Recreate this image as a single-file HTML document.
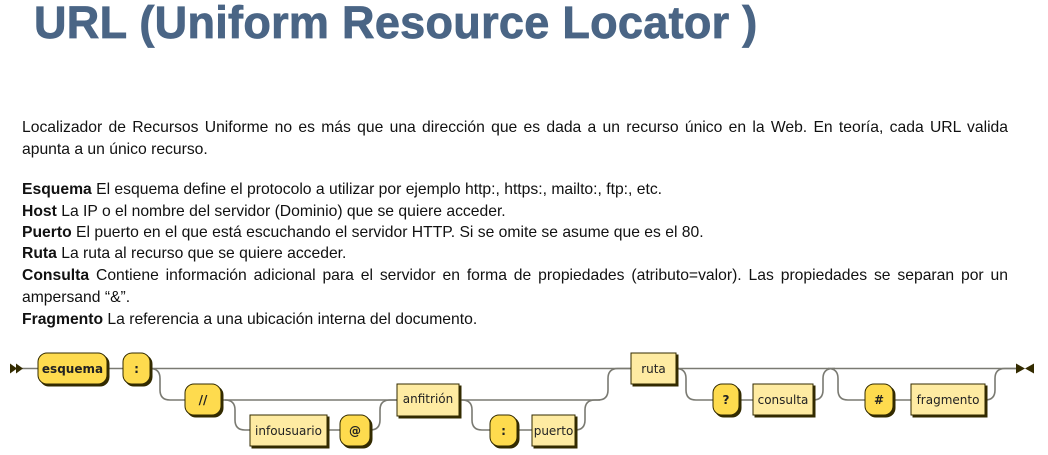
<!DOCTYPE html>
<html><head><meta charset="utf-8"><style>
html,body{margin:0;padding:0;background:#fff;width:1048px;height:455px;overflow:hidden;position:relative}
h1{position:absolute;left:34px;top:-3px;margin:0;font:bold 45px "Liberation Sans",sans-serif;color:#4a6585;white-space:nowrap;letter-spacing:0.3px;-webkit-text-stroke:0.8px #4a6585}
.t{position:absolute;left:22px;width:986px;font:15.7px "Liberation Sans",sans-serif;color:#111;white-space:nowrap;line-height:20px}
.j{text-align:justify;text-align-last:justify}
b{font-weight:bold}
svg{position:absolute;left:0;top:0}
</style></head><body>
<h1>URL (Uniform Resource Locator )</h1>
<div class="t j" style="top:118px">Localizador de Recursos Uniforme no es más que una dirección que es dada a un recurso único en la Web. En teoría, cada URL valida</div>
<div class="t" style="top:140px">apunta a un único recurso.</div>
<div class="t" style="top:180px"><b>Esquema</b> El esquema define el protocolo a utilizar por ejemplo http:, https:, mailto:, ftp:, etc.</div>
<div class="t" style="top:202px"><b>Host</b> La IP o el nombre del servidor (Dominio) que se quiere acceder.</div>
<div class="t" style="top:223px"><b>Puerto</b> El puerto en el que está escuchando el servidor HTTP. Si se omite se asume que es el 80.</div>
<div class="t" style="top:244px"><b>Ruta</b> La ruta al recurso que se quiere acceder.</div>
<div class="t j" style="top:266px"><b>Consulta</b> Contiene información adicional para el servidor en forma de propiedades (atributo=valor). Las propiedades se separan por un</div>
<div class="t" style="top:288px">ampersand “&amp;”.</div>
<div class="t" style="top:310px"><b>Fragmento</b> La referencia a una ubicación interna del documento.</div>
<svg width="1048" height="455" viewBox="0 0 1048 455">
<g fill="none" stroke="#7a7a72" stroke-width="1.6">
<path d="M22 368.5H38M107 368.5H123M150 368.5H631M676 368.5H1016"/>
<path d="M150 368.5q10 0 10 10v11.5q0 10 10 10H185M221 400H397"/>
<path d="M225 400q10 0 10 10v10q0 10 10 10H250M327 430H340M370 430q10 0 10-10v-10q0-10 10-10H397"/>
<path d="M459 400H598q10 0 10-10v-11.5q0-10 10-10H631"/>
<path d="M462 400q10 0 10 10v10q0 10 10 10H490M517 430H532M575 430q10 0 10-10v-10q0-10 10-10H600"/>
<path d="M676 368.5q10 0 10 10v11.5q0 10 10 10H713M739 400H753M813 400q10 0 10-10v-11.5q0-10 10-10H835"/>
<path d="M828 368.5q10 0 10 10v11.5q0 10 10 10H865M893 400H911M985 400q10 0 10-10v-11.5q0-10 10-10H1016"/>
</g>
<g fill="#332b00">
<polygon points="10,363.5 17,368.5 10,373.5"/><polygon points="16,363.5 23,368.5 16,373.5"/>
<polygon points="1016,363.5 1025,368.5 1016,373.5"/><polygon points="1034,363.5 1025,368.5 1034,373.5"/>
</g>
<g stroke="#332b00" stroke-width="1">
<rect x="40" y="355" width="69" height="31" rx="9" fill="#332b00"/><rect x="38" y="353" width="69" height="31" rx="9" fill="#fedb4e"/>
<rect x="125" y="355" width="27" height="31" rx="9" fill="#332b00"/><rect x="123" y="353" width="27" height="31" rx="9" fill="#fedb4e"/>
<rect x="187" y="386" width="36" height="31" rx="9" fill="#332b00"/><rect x="185" y="384" width="36" height="31" rx="9" fill="#fedb4e"/>
<rect x="342" y="417" width="30" height="31" rx="9" fill="#332b00"/><rect x="340" y="415" width="30" height="31" rx="9" fill="#fedb4e"/>
<rect x="492" y="417" width="27" height="31" rx="9" fill="#332b00"/><rect x="490" y="415" width="27" height="31" rx="9" fill="#fedb4e"/>
<rect x="715" y="386" width="26" height="31" rx="9" fill="#332b00"/><rect x="713" y="384" width="26" height="31" rx="9" fill="#fedb4e"/>
<rect x="867" y="386" width="28" height="31" rx="9" fill="#332b00"/><rect x="865" y="384" width="28" height="31" rx="9" fill="#fedb4e"/>
<rect x="252" y="417" width="77" height="31" fill="#332b00"/><rect x="250" y="415" width="77" height="31" fill="#feeba2"/>
<rect x="399" y="386" width="62" height="32" fill="#332b00"/><rect x="397" y="384" width="62" height="32" fill="#feeba2"/>
<rect x="534" y="417" width="43" height="31" fill="#332b00"/><rect x="532" y="415" width="43" height="31" fill="#feeba2"/>
<rect x="633" y="355" width="45" height="31" fill="#332b00"/><rect x="631" y="353" width="45" height="31" fill="#feeba2"/>
<rect x="755" y="386" width="60" height="31" fill="#332b00"/><rect x="753" y="384" width="60" height="31" fill="#feeba2"/>
<rect x="913" y="386" width="74" height="31" fill="#332b00"/><rect x="911" y="384" width="74" height="31" fill="#feeba2"/>
</g>
<g font-family="'DejaVu Sans',sans-serif" font-size="12" fill="#222" text-anchor="middle">
<g font-weight="bold">
<text x="72.5" y="373">esquema</text>
<text x="136.5" y="373">:</text>
<text x="203" y="404">//</text>
<text x="355" y="435">@</text>
<text x="503.5" y="435">:</text>
<text x="726" y="404">?</text>
<text x="879" y="404">#</text>
</g>
<text x="288.5" y="435">infousuario</text>
<text x="428" y="403">anfitrión</text>
<text x="553.5" y="435">puerto</text>
<text x="653.5" y="373">ruta</text>
<text x="783" y="404">consulta</text>
<text x="948" y="404">fragmento</text>
</g>
</svg>
</body></html>
